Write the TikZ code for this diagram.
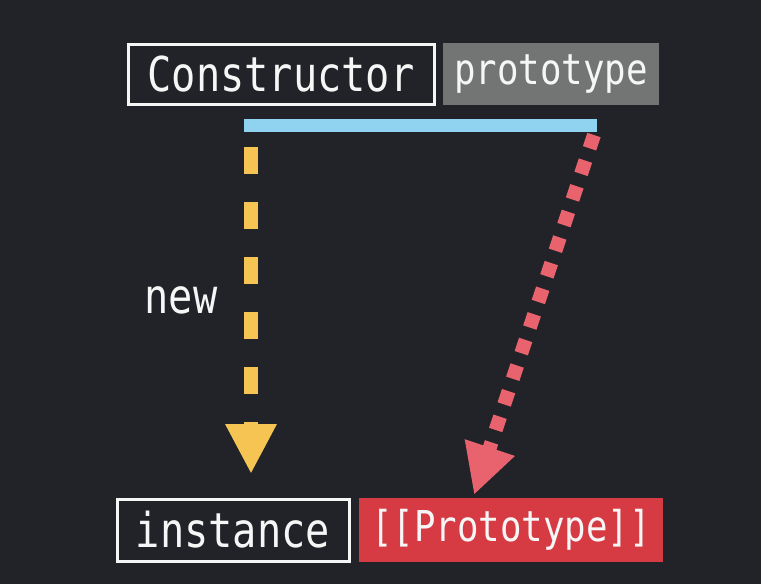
\documentclass[tikz,border=0pt]{standalone}
\usepackage{fontspec}
\usetikzlibrary{arrows.meta}
\newfontfamily\monofam[FakeStretch=0.84]{DejaVu Sans Mono}
\definecolor{bg}{HTML}{212328}
\definecolor{barblue}{HTML}{8FD3F0}
\definecolor{ylw}{HTML}{F5C452}
\definecolor{rdot}{HTML}{E8636E}
\definecolor{rbox}{HTML}{D63A42}
\definecolor{gbox}{HTML}{737574}
\definecolor{txt}{HTML}{F6F6F6}
\tikzset{
  outlinebox/.style={draw=txt, line width=3pt, fill=bg, text=txt, inner sep=0pt},
  filledbox/.style={fill=#1, text=txt, inner sep=0pt},
  bigtext/.style={font=\monofam\fontsize{48}{48}\selectfont},
  smalltext/.style={font=\monofam\fontsize{42.5}{42.5}\selectfont},
  yarrow/.style={draw=ylw, line width=14pt, dash pattern=on 27pt off 28pt,
     -{Triangle[length=50pt,width=48pt,fill=ylw]}},
  rarrow/.style={draw=rdot, line width=14pt, dash pattern=on 14pt off 13pt,
     -{Triangle[length=50pt,width=49pt,fill=rdot]}},
}
\begin{document}
\begin{tikzpicture}[x=1pt,y=-1pt]
\fill[bg] (0,0) rectangle (761,584);
\useasboundingbox (0,0) rectangle (761,584);
\node[outlinebox, bigtext, minimum width=306pt, minimum height=60pt] (cons) at (281,74) {Constructor};
\node[filledbox=gbox, smalltext, minimum width=216pt, minimum height=62pt] (proto) at (551,74) {prototype};
\node[filledbox=barblue, minimum width=353pt, minimum height=13pt] (bar) at (420.5,125.5) {};
\node[outlinebox, bigtext, minimum width=232pt, minimum height=62pt] (inst) at (233,530) {instance};
\node[filledbox=rbox, smalltext, minimum width=304pt, minimum height=64pt] (pproto) at (511,530) {[[Prototype]]};
\node[text=txt, bigtext, inner sep=0pt] (newl) at (181,300) {new};
\coordinate (ya) at (251,147);
\coordinate (yb) at (251,474);
\coordinate (ra) at (594,135);
\coordinate (rb) at (474,495);
\draw[yarrow] (ya) -- (yb);
\draw[rarrow] (ra) -- (rb);
\end{tikzpicture}
\end{document}
